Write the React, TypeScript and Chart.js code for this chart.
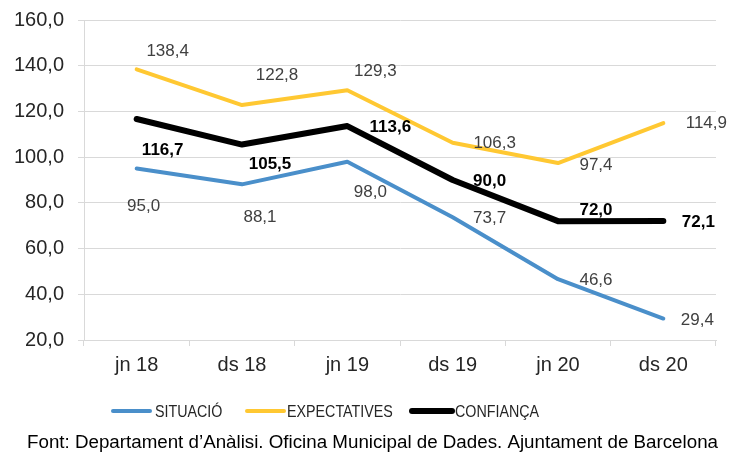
import React, { useEffect, useRef } from "react";
import { Chart, registerables } from "chart.js";

Chart.register(...registerables);

const categories = ["jn 18", "ds 18", "jn 19", "ds 19", "jn 20", "ds 20"];
const situacio = [95.0, 88.1, 98.0, 73.7, 46.6, 29.4];
const expectatives = [138.4, 122.8, 129.3, 106.3, 97.4, 114.9];
const confianca = [116.7, 105.5, 113.6, 90.0, 72.0, 72.1];
const seriesNames = ["SITUACIÓ", "EXPECTATIVES", "CONFIANÇA"];
const yTicks = { min: 20, max: 160, step: 20 };
const footerText = "Font: Departament d\u2019Anàlisi. Oficina Municipal de Dades. Ajuntament de Barcelona";

// label placement offsets (style, pixels relative to the point)
const labelOffsets = [
  [[7, 38], [18, 33], [23, 31], [37, 1], [38, 1], [34, 1.5]],
  [[31, -18], [35, -30], [28, -18.5], [42, 1], [38, 2], [43, 0]],
  [[26, 31], [28, 20], [43, 1], [37, 1], [38, -11], [35, 1]],
];

const COLORS = ["#4a8fca", "#ffc832", "#000000"];
const WIDTHS = [4, 4, 6];
const FONT = "'Liberation Sans', Arial, sans-serif";

const fmt = (v: number) => v.toFixed(1).replace(".", ",");

const overlayPlugin = {
  id: "overlay",
  afterDatasetsDraw(chart: any) {
    const ctx = chart.ctx;
    ctx.save();
    chart.data.datasets.forEach((ds: any, i: number) => {
      const meta = chart.getDatasetMeta(i);
      ctx.font = (i === 2 ? "bold " : "") + "17px " + FONT;
      ctx.fillStyle = i === 2 ? "#000000" : "#404040";
      ctx.textAlign = "center";
      ctx.textBaseline = "middle";
      meta.data.forEach((pt: any, j: number) => {
        const [dx, dy] = labelOffsets[i][j];
        ctx.fillText(fmt(ds.data[j]), pt.x + dx, pt.y + dy);
      });
    });
    ctx.restore();
  },
  afterDraw(chart: any) {
    const ctx = chart.ctx;
    ctx.save();
    // legend
    const legendY = 411;
    const items = [
      { x0: 113, x1: 150, tx: 155 },
      { x0: 247, x1: 284, tx: 287 },
      { x0: 412, x1: 452, tx: 455 },
    ];
    items.forEach((it, i) => {
      ctx.strokeStyle = COLORS[i];
      ctx.lineWidth = WIDTHS[i];
      ctx.lineCap = "round";
      ctx.beginPath();
      ctx.moveTo(it.x0, legendY);
      ctx.lineTo(it.x1, legendY);
      ctx.stroke();
      ctx.save();
      ctx.translate(it.tx, legendY);
      ctx.scale(0.84, 1);
      ctx.font = "17px " + FONT;
      ctx.fillStyle = "#262626";
      ctx.textAlign = "left";
      ctx.textBaseline = "middle";
      ctx.fillText(seriesNames[i], 0, 1);
      ctx.restore();
    });
    // footer
    ctx.font = "16px " + FONT;
    const w = ctx.measureText(footerText).width;
    const size = (16 * 691) / w;
    ctx.font = size.toFixed(2) + "px " + FONT;
    ctx.fillStyle = "#000000";
    ctx.textAlign = "left";
    ctx.textBaseline = "middle";
    ctx.fillText(footerText, 27, 443);
    ctx.restore();
  },
};

export default function App() {
  const ref = useRef<HTMLCanvasElement | null>(null);
  useEffect(() => {
    document.body.style.margin = "0";
    const canvas = ref.current!;
    const chart = new Chart(canvas, {
      type: "line",
      data: {
        labels: categories,
        datasets: [situacio, expectatives, confianca].map((d, i) => ({
          label: seriesNames[i],
          data: d,
          borderColor: COLORS[i],
          backgroundColor: COLORS[i],
          borderWidth: WIDTHS[i],
          pointRadius: 0,
          tension: 0,
          borderCapStyle: "round",
          borderJoinStyle: "round",
          fill: false,
        })),
      },
      options: {
        responsive: false,
        animation: false,
        layout: { padding: { left: 0, right: 14, top: 20, bottom: 76 } },
        plugins: { legend: { display: false }, tooltip: { enabled: false }, title: { display: false } },
        scales: {
          x: {
            offset: true,
            grid: {
              offset: true,
              drawOnChartArea: false,
              drawTicks: true,
              tickLength: 6,
              color: "#d9d9d9",
            },
            border: { display: true, color: "#d9d9d9", width: 1 },
            ticks: {
              color: "#262626",
              font: { size: 20, family: FONT },
              padding: 7,
              maxRotation: 0,
            },
            afterFit: (s: any) => {
              s.height = 40;
              s.paddingLeft = 0;
              s.paddingRight = 0;
            },
          },
          y: {
            min: yTicks.min,
            max: yTicks.max,
            ticks: {
              stepSize: yTicks.step,
              color: "#262626",
              font: { size: 20, family: FONT },
              padding: 14,
              callback: (v: any) => fmt(Number(v)),
            },
            grid: { color: "#d9d9d9", tickLength: 6, drawTicks: true },
            border: { display: true, color: "#d9d9d9", width: 1 },
            afterFit: (s: any) => {
              s.width = 84;
              s.paddingTop = 0;
              s.paddingBottom = 0;
            },
          },
        },
      },
      plugins: [overlayPlugin],
    } as any);
    return () => chart.destroy();
  }, []);
  return <canvas ref={ref} width={730} height={456} style={{ display: "block", width: 730, height: 456 }} />;
}
